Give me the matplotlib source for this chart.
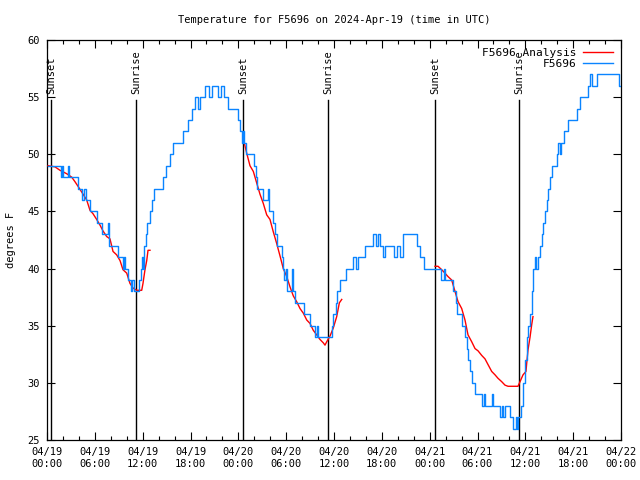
import datetime as dt
import numpy as np
import matplotlib
matplotlib.use("Agg")
import matplotlib.pyplot as plt
import matplotlib.dates as mdates

# hours after 2024-04-19 00:00 UTC, temperature in deg F
obs_hours = [
    0.13, 1.76, 1.88, 2.0, 2.63, 2.76, 3.89, 4.39, 4.64, 4.89, 5.39, 6.27, 6.9,
    7.65, 7.78, 8.9, 9.53, 9.66, 9.78, 10.16, 10.54, 10.66, 10.91, 11.6, 11.8,
    11.92, 12.04, 12.17, 12.36, 12.54, 12.86, 13.17, 13.42, 14.55, 14.93, 15.43,
    15.8, 17.06, 17.69, 18.19, 18.56, 18.94, 19.19, 19.82, 20.32, 20.7, 21.45,
    21.83, 22.2, 22.7, 23.96, 24.27, 24.46, 24.58, 24.71, 24.96, 25.97, 26.22,
    26.34, 27.1, 27.73, 27.85, 28.35, 28.6, 28.85, 29.48, 29.6, 29.73, 29.98,
    30.1, 30.73, 30.86, 31.11, 32.24, 32.99, 33.62, 33.87, 34.0, 35.5, 35.75,
    35.88, 36.25, 36.38, 36.75, 37.5, 38.35, 38.76, 39.0, 39.89, 40.9, 41.28,
    41.53, 41.78, 42.15, 42.4, 43.53, 43.9, 44.28, 44.66, 46.41, 46.79, 47.29,
    49.42, 49.8, 49.92, 50.93, 51.31, 51.43, 52.06, 52.43, 52.68, 52.81, 53.06,
    53.31, 53.69, 54.57, 54.82, 54.94, 55.82, 55.95, 56.82, 57.07, 57.2, 57.45,
    58.08, 58.45, 58.83, 58.96, 59.08, 59.46, 59.65, 59.77, 59.96, 60.15, 60.34,
    60.59, 60.8, 60.96, 61.21, 61.4, 61.59, 61.84, 62.05, 62.22, 62.47, 62.68,
    62.9, 63.1, 63.35, 63.91, 64.1, 64.35, 64.47, 64.85, 65.35, 66.44, 66.86,
    67.86, 68.11, 68.36, 68.99, 71.75, 72.0,
]
obs_temp = [
    49, 48, 49, 48, 49, 48, 47, 46, 47, 46, 45, 44, 43,
    44, 42, 41, 40, 41, 40, 39, 38, 39, 38, 39, 40,
    41, 40, 42, 43, 44, 45, 46, 47, 48, 49, 50,
    51, 52, 53, 54, 55, 54, 55, 56, 55, 56, 55,
    56, 55, 54, 53, 52, 51, 52, 51, 50, 49, 48,
    47, 46, 47, 45, 44, 43, 42, 41, 40, 39, 40,
    38, 40, 38, 37, 36, 35, 34, 35, 34, 34, 35,
    36, 37, 38, 39, 40, 41, 40, 41, 42, 43, 42,
    43, 42, 41, 42, 41, 42, 41, 43, 42, 41, 40,
    39, 40, 39, 38, 37, 36, 35, 34, 33, 32, 31,
    30, 29, 28, 29, 28, 29, 28, 27, 28, 27, 28,
    27, 26, 27, 26, 27, 28, 29, 30, 32, 34, 35,
    36, 38, 40, 41, 40, 41, 42, 43, 44, 45, 46,
    47, 48, 49, 50, 51, 50, 51, 52, 53, 54, 55,
    56, 57, 56, 57, 56, 56,
]

ana_hours = [
    [0.13, 1.0, 1.63, 2.47, 3.1, 3.51, 3.89, 4.35, 4.98, 5.39, 5.77, 6.23, 6.65,
     7.02, 7.49, 7.9, 8.28, 8.74, 9.16, 9.53, 10.0, 10.41, 10.79, 11.25, 11.88,
     12.04, 12.29, 12.51, 12.67, 12.92],
    [24.71, 25.05, 25.46, 25.88, 26.3, 26.72, 27.13, 27.56, 27.97, 28.39, 28.81,
     29.23, 29.64, 30.07, 30.48, 30.9, 31.32, 31.74, 32.15, 32.58, 32.99, 33.4,
     33.83, 34.24, 34.66, 34.87, 35.09, 35.5, 35.91, 36.34, 36.67, 36.97],
    [48.67, 49.05, 49.51, 49.92, 50.3, 50.76, 51.18, 51.56, 52.02, 52.43, 52.81,
     53.27, 53.69, 54.07, 54.53, 54.94, 55.32, 55.78, 56.2, 56.57, 57.04, 57.45,
     57.83, 58.45, 59.08, 59.33, 59.71, 60.08, 60.17, 60.34, 60.59, 60.8, 60.96],
]
ana_temp = [
    [49.0, 48.9, 48.6, 48.3, 48.0, 47.6, 47.2, 46.7, 46.0, 45.1, 44.8, 44.3, 43.8,
     43.3, 42.8, 42.6, 41.5, 41.2, 40.7, 39.9, 39.6, 38.7, 38.3, 38.1, 38.1,
     38.7, 39.9, 40.7, 41.6, 41.6],
    [51.1, 50.1, 49.0, 48.5, 47.5, 46.5, 45.7, 44.7, 44.3, 43.2, 42.2,
     41.1, 40.0, 39.3, 38.4, 37.6, 37.1, 36.5, 36.1, 35.5, 35.2, 34.6,
     34.2, 33.8, 33.5, 33.3, 33.6, 34.1, 34.8, 35.8, 37.0, 37.3],
    [40.2, 40.2, 39.9, 39.6, 39.3, 39.0, 38.0, 37.1, 36.5, 35.5, 34.2,
     33.6, 33.0, 32.8, 32.4, 32.1, 31.6, 31.0, 30.7, 30.4, 30.1, 29.8,
     29.7, 29.7, 29.7, 30.1, 30.7, 31.0, 31.7, 32.9, 34.0, 35.1, 35.8],
]

sun_hours = [0.5, 11.16, 24.59, 35.25, 48.67, 59.21]
sun_labels = ["Sunset", "Sunrise", "Sunset", "Sunrise", "Sunset", "Sunrise"]

base = dt.datetime(2024, 4, 19)
def to_time(hours):
    return [base + dt.timedelta(hours=h) for h in hours]

plt.rcParams['font.family'] = ['DejaVu Sans Mono']
plt.rcParams['font.size'] = 7.5

fig = plt.figure(figsize=(6.4, 4.8), dpi=100)
ax = fig.add_axes([47 / 640, 40 / 480, 574 / 640, 400 / 480])

blue = '#0a84ff'
red = '#ff0000'

for i in range(len(ana_hours)):
    ax.plot(to_time(ana_hours[i]), ana_temp[i], color=red, lw=1.0,
            label='F5696 Analysis' if i == 0 else None, zorder=3)
ax.plot(to_time(obs_hours), obs_temp, color=blue, lw=1.0, drawstyle='steps-post',
        label='F5696', zorder=4)

for h, lab in zip(sun_hours, sun_labels):
    t = base + dt.timedelta(hours=h)
    ax.axvline(t, ymin=0, ymax=(54.75 - 25) / 35, color='black', lw=1.0, zorder=2)
    ax.text(t, 55.3, lab, rotation=90, ha='center', va='bottom', fontsize=7.5)

ax.set_xlim(base, base + dt.timedelta(hours=72))
ax.set_ylim(25, 60)
ax.set_yticks(np.arange(25, 61, 5))
ax.xaxis.set_major_locator(mdates.HourLocator(byhour=[0, 6, 12, 18]))
ax.xaxis.set_minor_locator(mdates.HourLocator(byhour=range(0, 24, 2)))
ax.xaxis.set_major_formatter(mdates.DateFormatter('%m/%d\n%H:%M'))
ax.tick_params(which='both', direction='in', top=True, right=True, width=0.8)
ax.tick_params(which='major', length=6, pad=5)
ax.tick_params(which='minor', length=3)
for s in ax.spines.values():
    s.set_linewidth(0.9)

ax.set_ylabel('degrees F', labelpad=8)
ax.set_title('Temperature for F5696 on 2024-Apr-19 (time in UTC)', fontsize=7.5, pad=12)

ax.legend(loc='upper right', frameon=False, markerfirst=False, handlelength=2.7,
          borderaxespad=0.3, labelspacing=0.1, handletextpad=0.6, fontsize=8)

fig.savefig('out.png', dpi=100)
